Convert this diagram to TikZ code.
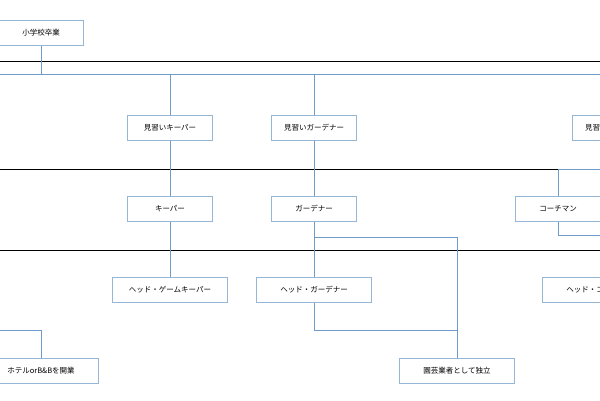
\documentclass[tikz,border=0pt]{standalone}
\usepackage{fontspec}
\newfontfamily\cjk{Noto Sans CJK JP}
\usetikzlibrary{positioning}
\definecolor{boxline}{RGB}{150, 182, 214}
\definecolor{link}{RGB}{110, 155, 200}

\tikzset{
  job/.style={draw=boxline, line width=0.9pt, fill=white, font=\cjk\fontsize{7.5}{9}\selectfont,
    minimum height=25pt, inner sep=0pt},
  short/.style={job, minimum width=85pt},
  long/.style={job, minimum width=115pt},
  wire/.style={draw=link, line width=0.9pt},
  stage/.style={draw=black, line width=1pt}
}

\begin{document}
\begin{tikzpicture}[x=1pt, y=-1pt]
  \useasboundingbox (0, 0) rectangle (600, 400);
  \clip (0, 0) rectangle (600, 400);

  % stage lines
  \foreach \y in {61, 169, 250} {
    \draw[stage] (-10, \y) -- (610, \y);
  }

  \node[short] (school) at (41, 33) {小学校卒業};
  \node[short] (apkeeper) at (170, 128) {見習いキーパー};
  \node[short] (apgarden) at (314, 128) {見習いガーデナー};
  \node[short] (apright) at (615, 128) {見習いコーチマン};
  \node[short] (keeper) at (170, 209) {キーパー};
  \node[short] (garden) at (314, 209) {ガーデナー};
  \node[short] (coach) at (558, 209) {コーチマン};
  \node[long] (headkeeper) at (170, 290) {ヘッド・ゲームキーパー};
  \node[long] (headgarden) at (314, 290) {ヘッド・ガーデナー};
  \node[long] (headcoach) at (600, 290) {ヘッド・コーチマン};
  \node[long] (hotel) at (41, 371) {ホテルorB\&Bを開業};
  \node[long] (grower) at (457, 371) {園芸業者として独立};

  \coordinate (split) at (41, 74);
  \coordinate (offL) at (-10, 74);
  \coordinate (offR) at (610, 74);
  \coordinate (coachin) at (610, 169);
  \coordinate (coachout) at (610, 235);
  \coordinate (hotelin) at (-10, 330);
  \coordinate (fork) at (457, 237);
  \coordinate (join) at (457, 330);

  \draw[wire] (school.south) -- (split);
  \draw[wire] (offL) -- (offR);
  \draw[wire] (apkeeper.north) -- (apkeeper.north |- split);
  \draw[wire] (apgarden.north) -- (apgarden.north |- split);
  \draw[wire] (apkeeper) -- (keeper);
  \draw[wire] (apgarden) -- (garden);
  \draw[wire] (keeper) -- (headkeeper);
  \draw[wire] (garden) -- (headgarden);
  \draw[wire] (garden.south) |- (fork) -- (grower.north);
  \draw[wire] (headgarden.south) |- (join);
  \draw[wire] (coach.north) |- (coachin);
  \draw[wire] (coach.south) |- (coachout);
  \draw[wire] (hotel.north) |- (hotelin);
\end{tikzpicture}
\end{document}
